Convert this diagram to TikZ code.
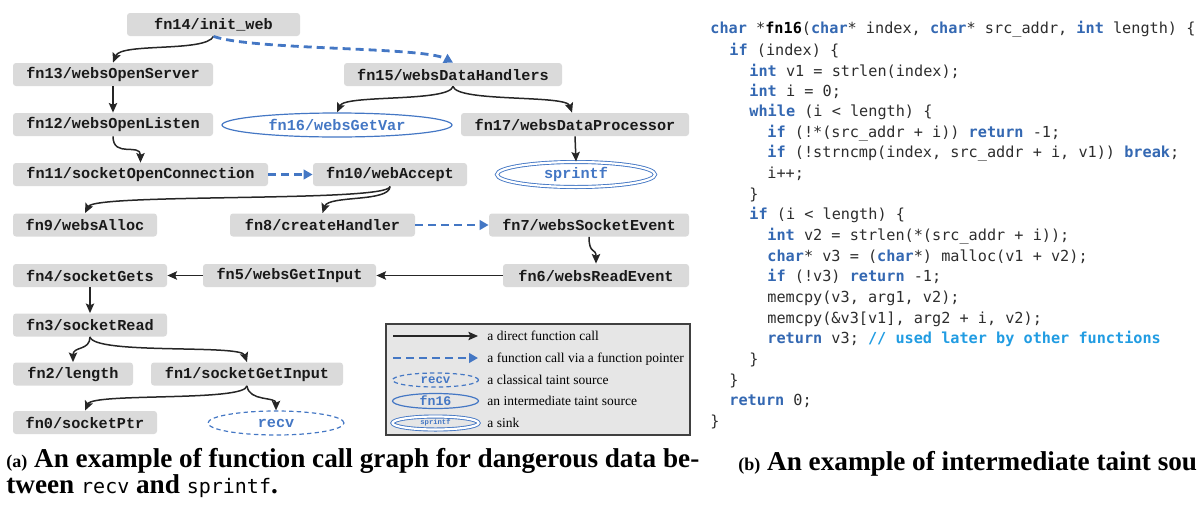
\documentclass[tikz,border=0pt]{standalone}
\usepackage{fontspec}
\setmainfont{Liberation Serif}
\newfontfamily\fnfont{Liberation Mono}
\newfontfamily\codefont{DejaVu Sans Mono}
\usetikzlibrary{arrows.meta,shapes.geometric}
\definecolor{nodegray}{RGB}{218,218,218}
\definecolor{tblue}{RGB}{68,119,196}
\definecolor{kwblue}{RGB}{52,104,178}
\definecolor{cmblue}{RGB}{33,156,226}
\definecolor{codegray}{RGB}{45,45,45}
\definecolor{leggray}{RGB}{230,230,230}
\newcommand\kwd[1]{\textcolor{kwblue}{\bfseries #1}}
\newcommand\cmtx[1]{\textcolor{cmblue}{\bfseries #1}}
\begin{document}
\begin{tikzpicture}[x=0.5pt,y=-0.5pt,
  fn/.style={fill=nodegray, rounded corners=1.5pt, inner sep=0pt, minimum height=11.5pt,
    font=\fnfont\bfseries\fontsize{7.6}{9}\selectfont, text=black!90},
  wd/.style={minimum width=#1*0.5pt},
  ht/.style={minimum height=#1*0.5pt},
  src/.style={ellipse, draw=tblue, line width=0.6pt, inner sep=0pt,
    font=\fnfont\bfseries\fontsize{7.6}{9}\selectfont, text=tblue},
  classic/.style={src, dash pattern=on 2.2pt off 1.6pt},
  sink/.style={src, line width=0.45pt, double=white, double distance=1.1pt},
  call/.style={-{Stealth[length=4.8pt,width=4.2pt,inset=0.9pt]}, line width=0.75pt, black!85},
  ptr/.style={-{Triangle[length=4.5pt,width=4.8pt]}, line width=1.4pt, tblue, dash pattern=on 4pt off 2.5pt},
  code/.style={anchor=mid west, inner sep=0pt, font=\codefont\fontsize{7.6}{9}\selectfont, text=codegray},
  legtext/.style={anchor=mid west, inner sep=0pt, font=\fontsize{6.75}{8}\selectfont},
  captext/.style={anchor=mid west, inner sep=0pt, font=\bfseries\fontsize{13.6}{15}\selectfont},
]
\useasboundingbox (0,0) rectangle (1197,504);

% ---- call graph nodes ----
\node[fn, wd=173] (n14) at (213.5,24.5) {fn14/init\_web};
\node[fn, wd=200] (n13) at (113,74.5) {fn13/websOpenServer};
\node[fn, wd=218] (n15) at (453,74.5) {fn15/websDataHandlers};
\node[fn, wd=200] (n12) at (113,124.5) {fn12/websOpenListen};
\node[src, wd=230, ht=24] (n16) at (337,125) {fn16/websGetVar};
\node[fn, wd=228] (n17) at (575,124.5) {fn17/websDataProcessor};
\node[fn, wd=255] (n11) at (140.5,174.5) {fn11/socketOpenConnection};
\node[fn, wd=154] (n10) at (390,174.5) {fn10/webAccept};
\node[sink, wd=158, ht=25] (sink) at (576,174.5) {sprintf};
\node[fn, wd=144] (n9) at (85,225) {fn9/websAlloc};
\node[fn, wd=185] (n8) at (322.5,225) {fn8/createHandler};
\node[fn, wd=200] (n7) at (589,225) {fn7/websSocketEvent};
\node[fn, wd=154] (n4) at (90,275.5) {fn4/socketGets};
\node[fn, wd=173] (n5) at (289.5,275.5) {fn5/websGetInput};
\node[fn, wd=186] (n6) at (596,275.5) {fn6/websReadEvent};
\node[fn, wd=154] (n3) at (90,325) {fn3/socketRead};
\node[fn, wd=120] (n2) at (73,374) {fn2/length};
\node[fn, wd=192] (n1) at (247,374) {fn1/socketGetInput};
\node[fn, wd=144] (n0) at (85,422.5) {fn0/socketPtr};
\node[classic, wd=136, ht=24] (recv) at (276,423) {recv};

% ---- connectors ----
\draw[call] (n14.south) .. controls +(-8,16) and +(8,-20) .. (n13.north);
\draw[ptr] (n14.south) .. controls +(40,14) and +(-30,-16) .. (n15.north);
\draw[call] (n13.south) -- (n12.north);
\draw[call] (n12.south) .. controls +(0,22) and +(0,-20) .. (n11.north);
\draw[ptr] (n11.east) -- (n10.west);
\draw[call] (n10.south) .. controls +(0,16) and +(10,-20) .. (n9.north);
\draw[call] (n10.south) .. controls +(0,16) and +(6,-18) .. (n8.north);
\draw[call] (n15.south) .. controls +(-4,16) and +(8,-18) .. (n16.north);
\draw[call] (n15.south) .. controls +(4,16) and +(-6,-18) .. ([xshift=-1.5pt]n17.north);
\draw[call] (n17.south) -- (sink.north);
\draw[ptr] (n8.east) -- (n7.west);
\draw[call] (n7.south) .. controls +(0,18) and +(0,-16) .. (n6.north);
\draw[call] (n6.west) -- (n5.east);
\draw[call] (n5.west) -- (n4.east);
\draw[call] (n4.south) -- (n3.north);
\draw[call] (n3.south) .. controls +(0,14) and +(0,-16) .. (n2.north);
\draw[call] (n3.south) .. controls +(4,18) and +(-6,-18) .. (n1.north);
\draw[call] (n1.south) .. controls +(-2,16) and +(8,-18) .. (n0.north);
\draw[call] (n1.south) .. controls +(2,16) and +(0,-14) .. (recv.north);

% ---- legend ----
\node[draw=black!75, line width=0.6pt, fill=leggray, inner sep=0pt, minimum width=152pt, minimum height=55.5pt] (legend) at (538,379.5) {};
\coordinate (l1a) at (393,336); \coordinate (l1b) at (478,336);
\coordinate (l2a) at (393,358); \coordinate (l2b) at (478,358);
\draw[call] (l1a) -- (l1b);
\draw[ptr] (l2a) -- (l2b);
\node[classic, wd=86, ht=14, font=\fnfont\bfseries\fontsize{6.2}{7}\selectfont] (lrecv) at (435.5,380) {recv};
\node[src, wd=86, ht=15, font=\fnfont\bfseries\fontsize{6.6}{7}\selectfont] (lfn16) at (435.5,401) {fn16};
\node[sink, wd=86, ht=13, font=\fnfont\bfseries\fontsize{3.6}{4}\selectfont] (lsink) at (435.5,423) {sprintf};
\node[legtext] (t1) at (487,336) {a direct function call};
\node[legtext] (t2) at (487,358) {a function call via a function pointer};
\node[legtext] (t3) at (487,380) {a classical taint source};
\node[legtext] (t4) at (487,401) {an intermediate taint source};
\node[legtext] (t5) at (487,423) {a sink};

% ---- code ----
\node[code] (c1) at (710,29) {\kwd{char} *\textbf{\textcolor{black}{fn16}}(\kwd{char}* index, \kwd{char}* src\_addr, \kwd{int} length) \{};
\node[code] (c2) at (729,51) {\kwd{if} (index) \{};
\node[code] (c3) at (749,72) {\kwd{int} v1 = strlen(index);};
\node[code] (c4) at (749,92) {\kwd{int} i = 0;};
\node[code] (c5) at (749,112) {\kwd{while} (i < length) \{};
\node[code] (c6) at (767,133) {\kwd{if} (!*(src\_addr + i)) \kwd{return} -1;};
\node[code] (c7) at (767,153) {\kwd{if} (!strncmp(index, src\_addr + i, v1)) \kwd{break};};
\node[code] (c8) at (767,174) {i++;};
\node[code] (c9) at (749,195) {\}};
\node[code] (c10) at (749,215) {\kwd{if} (i < length) \{};
\node[code] (c11) at (767,236) {\kwd{int} v2 = strlen(*(src\_addr + i));};
\node[code] (c12) at (767,257) {\kwd{char}* v3 = (\kwd{char}*) malloc(v1 + v2);};
\node[code] (c13) at (767,277) {\kwd{if} (!v3) \kwd{return} -1;};
\node[code] (c14) at (767,298) {memcpy(v3, arg1, v2);};
\node[code] (c15) at (767,319) {memcpy(\&v3[v1], arg2 + i, v2);};
\node[code] (c16) at (767,339) {\kwd{return} v3; \cmtx{// used later by other functions}};
\node[code] (c17) at (749,360) {\}};
\node[code] (c18) at (729,381) {\}};
\node[code] (c19) at (729,401) {\kwd{return} 0;};
\node[code] (c20) at (710,422) {\}};

% ---- captions ----
\node[captext] (capa1) at (6,463) {{\fontsize{9}{10}\selectfont(a)} An example of function call graph for dangerous data be-};
\node[captext] (capa2) at (6,489) {tween {\mdseries\codefont\fontsize{10}{11}\selectfont recv} and {\mdseries\codefont\fontsize{10}{11}\selectfont sprintf}.};
\begin{scope}
\clip (700,440) rectangle (1197,504);
\node[captext] (capb) at (738,466) {{\fontsize{9}{10}\selectfont(b)} An example of intermediate taint source};
\end{scope}
\end{tikzpicture}
\end{document}
